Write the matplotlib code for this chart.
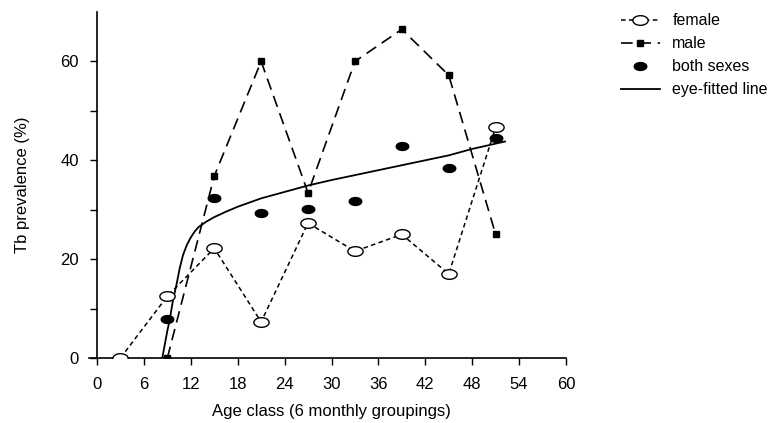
import numpy as np
import matplotlib
matplotlib.use("Agg")
import matplotlib.pyplot as plt
from matplotlib.path import Path

plt.rcParams['font.family'] = ['Liberation Sans', 'DejaVu Sans']
plt.rcParams['font.size'] = 12

# Data
age_female = [3, 9, 15, 21, 27, 33, 39, 45, 51]
female = [0, 12.5, 22.2, 7.3, 27.3, 21.6, 25.0, 17.0, 46.7]

age_male = [9, 15, 21, 27, 33, 39, 45, 51]
male = [0, 36.8, 60, 33.4, 60, 66.5, 57.2, 25.0]

age_both = [9, 15, 21, 27, 33, 39, 45, 51]
both = [7.8, 32.3, 29.4, 30.1, 31.7, 42.9, 38.5, 44.5]

fit_x = [8.35, 9.0, 9.3, 9.7, 10.2, 10.6, 11.0, 11.5, 12.0, 12.5, 13.0, 14.0, 15.0,
         16.5, 18.0, 21.0, 24.0, 27.0, 30.0, 33.0, 36.0, 39.0, 42.0, 45.0, 48.0, 52.2]
fit_y = [0, 5.5, 7.7, 11.5, 15.1, 18.3, 20.8, 22.9, 24.4, 25.6, 26.5, 27.6, 28.5,
         29.6, 30.6, 32.3, 33.6, 34.9, 36.0, 37.0, 38.0, 39.0, 40.0, 41.0, 42.3, 43.8]

xticks = [0, 6, 12, 18, 24, 30, 36, 42, 48, 54, 60]
yticks = [0, 20, 40, 60]
yminor = [10, 30, 50]

# Ellipse marker
t = np.linspace(0, 2 * np.pi, 60)
ell = Path(np.column_stack([np.cos(t), 0.63 * np.sin(t)]), closed=True)

fig = plt.figure(figsize=(7.79, 4.23), dpi=100)
ax = fig.add_axes([97/779, 1 - 358/423, (566-97)/779, (358-12)/423])

ax.plot(age_female, female, linestyle=(0, (3, 2.2)), color='black', lw=1.1,
        marker=ell, markersize=11, markerfacecolor='white', markeredgecolor='black',
        markeredgewidth=1.0, label='female', zorder=3)
ax.plot(age_male, male, linestyle=(0, (7, 4)), color='black', lw=1.2,
        marker='s', markersize=5, markerfacecolor='black', markeredgecolor='black',
        label='male', zorder=3)
ax.plot(age_both, both, linestyle='none', marker=ell, markersize=9,
        markerfacecolor='black', markeredgecolor='black', label='both sexes', zorder=4)
ax.plot(fit_x, fit_y, color='black', lw=1.3, label='eye-fitted line', zorder=2)

ax.set_xlim(0, 60)
ax.set_ylim(0, 70)
ax.set_xticks(xticks)
ax.set_yticks(yticks)
ax.set_yticks(yminor, minor=True)
ax.tick_params(axis='both', which='both', direction='out', length=5, width=1.0)
ax.tick_params(axis='x', pad=9)
ax.tick_params(axis='y', pad=8)
for s in ['top', 'right']:
    ax.spines[s].set_visible(False)
for s in ['left', 'bottom']:
    ax.spines[s].set_linewidth(1.2)
ax.spines['bottom'].set_bounds(-1, 60)
ax.patch.set_alpha(0)

ax.set_xlabel('Age class (6 monthly groupings)', labelpad=8)
ax.set_ylabel('Tb prevalence (%)', labelpad=22)

leg = ax.legend(loc='upper left', bbox_to_anchor=(618/779, 1 - 10/423),
                bbox_transform=fig.transFigure, frameon=False,
                fontsize=11.5, borderpad=0.2,
                handlelength=2.4, handletextpad=0.8, labelspacing=0.5,
                borderaxespad=0)

fig.savefig('out.png', dpi=100)
